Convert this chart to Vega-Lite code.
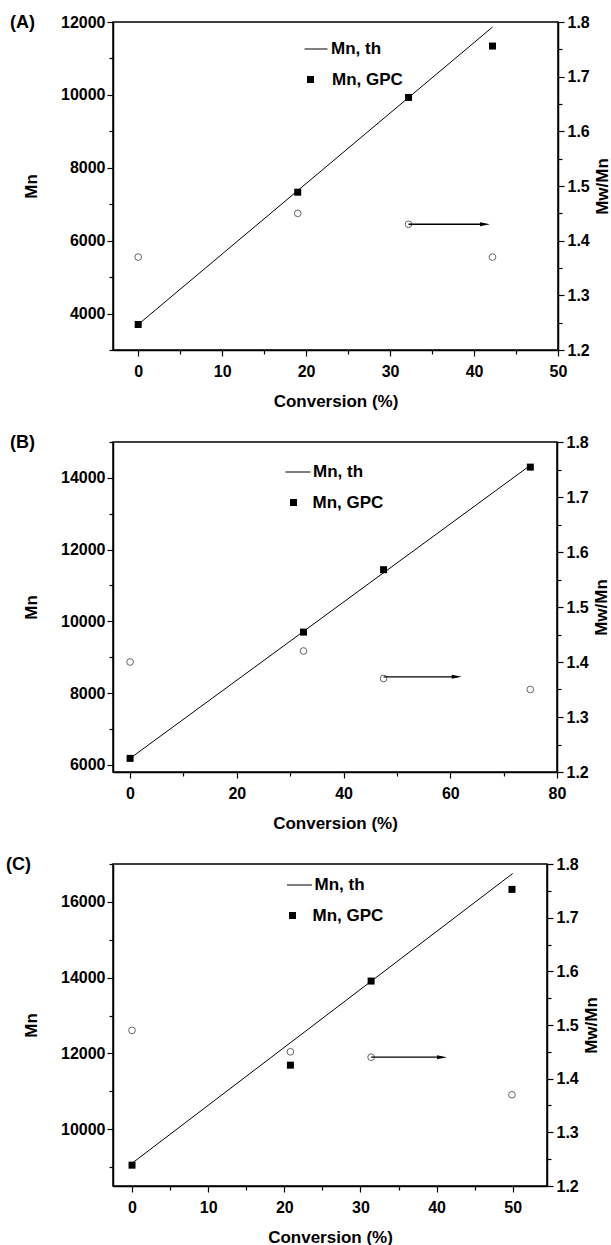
{
  "$schema": "https://vega.github.io/schema/vega-lite/v6.json",
  "background": "white",
  "padding": {"left": 5, "top": 13, "right": 0, "bottom": 0},
  "spacing": 23,
  "datasets": {
    "gpc": [
      {"panel": "A", "conv": 0, "mn": 3700, "series": "Mn, GPC"},
      {"panel": "A", "conv": 19, "mn": 7330, "series": "Mn, GPC"},
      {"panel": "A", "conv": 32.2, "mn": 9930, "series": "Mn, GPC"},
      {"panel": "A", "conv": 42.2, "mn": 11340, "series": "Mn, GPC"},
      {"panel": "B", "conv": 0, "mn": 6180, "series": "Mn, GPC"},
      {"panel": "B", "conv": 32.5, "mn": 9700, "series": "Mn, GPC"},
      {"panel": "B", "conv": 47.5, "mn": 11440, "series": "Mn, GPC"},
      {"panel": "B", "conv": 75, "mn": 14300, "series": "Mn, GPC"},
      {"panel": "C", "conv": 0, "mn": 9050, "series": "Mn, GPC"},
      {"panel": "C", "conv": 20.8, "mn": 11690, "series": "Mn, GPC"},
      {"panel": "C", "conv": 31.4, "mn": 13910, "series": "Mn, GPC"},
      {"panel": "C", "conv": 49.9, "mn": 16330, "series": "Mn, GPC"}
    ],
    "theory": [
      {"panel": "A", "conv": 0, "mn": 3700, "series": "Mn, th"},
      {"panel": "A", "conv": 42.2, "mn": 11860, "series": "Mn, th"},
      {"panel": "B", "conv": 0, "mn": 6180, "series": "Mn, th"},
      {"panel": "B", "conv": 75, "mn": 14350, "series": "Mn, th"},
      {"panel": "C", "conv": 0, "mn": 9100, "series": "Mn, th"},
      {"panel": "C", "conv": 50, "mn": 16750, "series": "Mn, th"}
    ],
    "pdi": [
      {"panel": "A", "conv": 0, "pdi": 1.37},
      {"panel": "A", "conv": 19, "pdi": 1.45},
      {"panel": "A", "conv": 32.2, "pdi": 1.43},
      {"panel": "A", "conv": 42.2, "pdi": 1.37},
      {"panel": "B", "conv": 0, "pdi": 1.40},
      {"panel": "B", "conv": 32.5, "pdi": 1.42},
      {"panel": "B", "conv": 47.5, "pdi": 1.37},
      {"panel": "B", "conv": 75, "pdi": 1.35},
      {"panel": "C", "conv": 0, "pdi": 1.49},
      {"panel": "C", "conv": 20.8, "pdi": 1.45},
      {"panel": "C", "conv": 31.4, "pdi": 1.44},
      {"panel": "C", "conv": 49.9, "pdi": 1.37}
    ],
    "arrows": [
      {"panel": "A", "conv": 32.2, "x2": 41.3, "pdi": 1.43},
      {"panel": "B", "conv": 47.5, "x2": 61.2, "pdi": 1.373},
      {"panel": "C", "conv": 31.4, "x2": 40.7, "pdi": 1.44}
    ]
  },
  "vconcat": [
    {
      "width": 445, "height": 328,
      "title": {"text": "(A)", "anchor": "start", "frame": "group", "dx": -103, "dy": 18, "offset": 0},
      "layer": [
        {
          "encoding": {
            "x": {"field": "conv", "type": "quantitative", "scale": {"domain": [-3, 50], "nice": false, "zero": false},
              "axis": {"orient": "bottom", "values": [0, 5, 10, 15, 20, 25, 30, 35, 40, 45, 50], "labelExpr": "datum.value % 10 === 0 ? datum.label : ''", "tickSize": {"condition": {"test": "datum.value % 10 === 0", "value": 6}, "value": 4}, "title": "Conversion (%)"}},
            "y": {"field": "mn", "type": "quantitative", "scale": {"domain": [3000, 12000], "nice": false, "zero": false},
              "axis": {"orient": "left", "format": "d", "values": [3000, 4000, 5000, 6000, 7000, 8000, 9000, 10000, 11000, 12000], "labelExpr": "datum.value % 2000 === 0 ? datum.label : ''", "tickSize": {"condition": {"test": "datum.value % 2000 === 0", "value": 6}, "value": 4}, "title": "Mn"}}
          },
          "layer": [
            {"data": {"name": "theory"}, "transform": [{"filter": "datum.panel === 'A'"}], "mark": {"type": "line", "strokeWidth": 1},
              "encoding": {"color": {"field": "series", "type": "nominal", "scale": {"domain": ["Mn, th"], "range": ["black"]},
                "legend": {"orient": "none", "legendX": 191, "legendY": 15, "title": null, "symbolType": "stroke", "symbolSize": 529, "symbolStrokeWidth": 1, "labelOffset": 3, "padding": 0}}}},
            {"data": {"name": "gpc"}, "transform": [{"filter": "datum.panel === 'A'"}], "mark": {"type": "point", "filled": true, "color": "black", "size": 49, "opacity": 1},
              "encoding": {"shape": {"field": "series", "type": "nominal", "scale": {"domain": ["Mn, GPC"], "range": ["square"]},
                "legend": {"orient": "none", "legendX": 189, "legendY": 49, "title": null, "symbolSize": 49, "symbolFillColor": "black", "symbolOpacity": 1, "labelOffset": 13, "padding": 0}}}}
          ]
        },
        {
          "encoding": {
            "x": {"field": "conv", "type": "quantitative", "scale": {"domain": [-3, 50], "nice": false, "zero": false},
              "axis": {"orient": "top", "values": [0, 5, 10, 15, 20, 25, 30, 35, 40, 45, 50], "labels": false, "tickSize": -4, "domain": false, "title": null}},
            "y": {"field": "pdi", "type": "quantitative", "scale": {"domain": [1.2, 1.8], "nice": false, "zero": false},
              "axis": {"orient": "right", "format": ".1f", "values": [1.2, 1.25, 1.3, 1.35, 1.4, 1.45, 1.5, 1.55, 1.6, 1.65, 1.7, 1.75, 1.8], "labelExpr": "round(datum.value * 100) % 10 === 0 ? datum.label : ''", "tickSize": {"condition": {"test": "round(datum.value * 100) % 10 === 0", "value": 6}, "value": 4}, "title": "Mw/Mn", "titleAngle": 270}}
          },
          "layer": [
            {"data": {"name": "pdi"}, "transform": [{"filter": "datum.panel === 'A'"}], "mark": {"type": "point", "filled": false, "color": "#555555", "size": 45, "strokeWidth": 0.9, "opacity": 1}},
            {"data": {"name": "arrows"}, "transform": [{"filter": "datum.panel === 'A'"}], "mark": {"type": "rule", "color": "black", "strokeWidth": 1.3}, "encoding": {"x2": {"field": "x2"}}},
            {"data": {"name": "arrows"}, "transform": [{"filter": "datum.panel === 'A'"}], "mark": {"type": "point", "shape": "M-1,-0.4L1,0L-1,0.4Z", "filled": true, "color": "black", "size": 100, "opacity": 1}, "encoding": {"x": {"field": "x2", "type": "quantitative", "axis": null}}}
          ]
        }
      ],
      "resolve": {"scale": {"y": "independent"}, "axis": {"x": "independent"}}
    },
    {
      "width": 444, "height": 330,
      "title": {"text": "(B)", "anchor": "start", "frame": "group", "dx": -103, "dy": 18, "offset": 0},
      "layer": [
        {
          "encoding": {
            "x": {"field": "conv", "type": "quantitative", "scale": {"domain": [-3.2, 80], "nice": false, "zero": false},
              "axis": {"orient": "bottom", "values": [0, 10, 20, 30, 40, 50, 60, 70, 80], "labelExpr": "datum.value % 20 === 0 ? datum.label : ''", "tickSize": {"condition": {"test": "datum.value % 20 === 0", "value": 6}, "value": 4}, "title": "Conversion (%)"}},
            "y": {"field": "mn", "type": "quantitative", "scale": {"domain": [5800, 15000], "nice": false, "zero": false},
              "axis": {"orient": "left", "format": "d", "values": [6000, 7000, 8000, 9000, 10000, 11000, 12000, 13000, 14000, 15000], "labelExpr": "datum.value % 2000 === 0 ? datum.label : ''", "tickSize": {"condition": {"test": "datum.value % 2000 === 0", "value": 6}, "value": 4}, "title": "Mn"}}
          },
          "layer": [
            {"data": {"name": "theory"}, "transform": [{"filter": "datum.panel === 'B'"}], "mark": {"type": "line", "strokeWidth": 1},
              "encoding": {"color": {"field": "series", "type": "nominal", "scale": {"domain": ["Mn, th"], "range": ["black"]},
                "legend": {"orient": "none", "legendX": 172, "legendY": 17, "title": null, "symbolType": "stroke", "symbolSize": 625, "symbolStrokeWidth": 1, "labelOffset": 2, "padding": 0}}}},
            {"data": {"name": "gpc"}, "transform": [{"filter": "datum.panel === 'B'"}], "mark": {"type": "point", "filled": true, "color": "black", "size": 49, "opacity": 1},
              "encoding": {"shape": {"field": "series", "type": "nominal", "scale": {"domain": ["Mn, GPC"], "range": ["square"]},
                "legend": {"orient": "none", "legendX": 172, "legendY": 52, "title": null, "symbolSize": 49, "symbolFillColor": "black", "symbolOpacity": 1, "labelOffset": 10.5, "padding": 0}}}}
          ]
        },
        {
          "encoding": {
            "x": {"field": "conv", "type": "quantitative", "scale": {"domain": [-3.2, 80], "nice": false, "zero": false},
              "axis": {"orient": "top", "values": [0, 10, 20, 30, 40, 50, 60, 70, 80], "labels": false, "tickSize": -4, "domain": false, "title": null}},
            "y": {"field": "pdi", "type": "quantitative", "scale": {"domain": [1.2, 1.8], "nice": false, "zero": false},
              "axis": {"orient": "right", "format": ".1f", "values": [1.2, 1.25, 1.3, 1.35, 1.4, 1.45, 1.5, 1.55, 1.6, 1.65, 1.7, 1.75, 1.8], "labelExpr": "round(datum.value * 100) % 10 === 0 ? datum.label : ''", "tickSize": {"condition": {"test": "round(datum.value * 100) % 10 === 0", "value": 6}, "value": 4}, "title": "Mw/Mn", "titleAngle": 270}}
          },
          "layer": [
            {"data": {"name": "pdi"}, "transform": [{"filter": "datum.panel === 'B'"}], "mark": {"type": "point", "filled": false, "color": "#555555", "size": 45, "strokeWidth": 0.9, "opacity": 1}},
            {"data": {"name": "arrows"}, "transform": [{"filter": "datum.panel === 'B'"}], "mark": {"type": "rule", "color": "black", "strokeWidth": 1.3}, "encoding": {"x2": {"field": "x2"}}},
            {"data": {"name": "arrows"}, "transform": [{"filter": "datum.panel === 'B'"}], "mark": {"type": "point", "shape": "M-1,-0.4L1,0L-1,0.4Z", "filled": true, "color": "black", "size": 100, "opacity": 1}, "encoding": {"x": {"field": "x2", "type": "quantitative", "axis": null}}}
          ]
        }
      ],
      "resolve": {"scale": {"y": "independent"}, "axis": {"x": "independent"}}
    },
    {
      "width": 434, "height": 322,
      "title": {"text": "(C)", "anchor": "start", "frame": "group", "dx": -107, "dy": 18, "offset": 0},
      "layer": [
        {
          "encoding": {
            "x": {"field": "conv", "type": "quantitative", "scale": {"domain": [-2.5, 54.5], "nice": false, "zero": false},
              "axis": {"orient": "bottom", "values": [0, 5, 10, 15, 20, 25, 30, 35, 40, 45, 50], "labelExpr": "datum.value % 10 === 0 ? datum.label : ''", "tickSize": {"condition": {"test": "datum.value % 10 === 0", "value": 6}, "value": 4}, "title": "Conversion (%)"}},
            "y": {"field": "mn", "type": "quantitative", "scale": {"domain": [8500, 17000], "nice": false, "zero": false},
              "axis": {"orient": "left", "format": "d", "values": [9000, 10000, 11000, 12000, 13000, 14000, 15000, 16000, 17000], "labelExpr": "datum.value % 2000 === 0 ? datum.label : ''", "tickSize": {"condition": {"test": "datum.value % 2000 === 0", "value": 6}, "value": 4}, "title": "Mn"}}
          },
          "layer": [
            {"data": {"name": "theory"}, "transform": [{"filter": "datum.panel === 'C'"}], "mark": {"type": "line", "strokeWidth": 1},
              "encoding": {"color": {"field": "series", "type": "nominal", "scale": {"domain": ["Mn, th"], "range": ["black"]},
                "legend": {"orient": "none", "legendX": 173.5, "legendY": 8, "title": null, "symbolType": "stroke", "symbolSize": 625, "symbolStrokeWidth": 1, "labelOffset": 2, "padding": 0}}}},
            {"data": {"name": "gpc"}, "transform": [{"filter": "datum.panel === 'C'"}], "mark": {"type": "point", "filled": true, "color": "black", "size": 49, "opacity": 1},
              "encoding": {"shape": {"field": "series", "type": "nominal", "scale": {"domain": ["Mn, GPC"], "range": ["square"]},
                "legend": {"orient": "none", "legendX": 171, "legendY": 43, "title": null, "symbolSize": 49, "symbolFillColor": "black", "symbolOpacity": 1, "labelOffset": 11.5, "padding": 0}}}}
          ]
        },
        {
          "encoding": {
            "x": {"field": "conv", "type": "quantitative", "scale": {"domain": [-2.5, 54.5], "nice": false, "zero": false},
              "axis": {"orient": "top", "values": [0, 5, 10, 15, 20, 25, 30, 35, 40, 45, 50], "labels": false, "tickSize": -4, "domain": false, "title": null}},
            "y": {"field": "pdi", "type": "quantitative", "scale": {"domain": [1.2, 1.8], "nice": false, "zero": false},
              "axis": {"orient": "right", "format": ".1f", "values": [1.2, 1.25, 1.3, 1.35, 1.4, 1.45, 1.5, 1.55, 1.6, 1.65, 1.7, 1.75, 1.8], "labelExpr": "round(datum.value * 100) % 10 === 0 ? datum.label : ''", "tickSize": {"condition": {"test": "round(datum.value * 100) % 10 === 0", "value": 6}, "value": 4}, "title": "Mw/Mn", "titleAngle": 270}}
          },
          "layer": [
            {"data": {"name": "pdi"}, "transform": [{"filter": "datum.panel === 'C'"}], "mark": {"type": "point", "filled": false, "color": "#555555", "size": 45, "strokeWidth": 0.9, "opacity": 1}},
            {"data": {"name": "arrows"}, "transform": [{"filter": "datum.panel === 'C'"}], "mark": {"type": "rule", "color": "black", "strokeWidth": 1.3}, "encoding": {"x2": {"field": "x2"}}},
            {"data": {"name": "arrows"}, "transform": [{"filter": "datum.panel === 'C'"}], "mark": {"type": "point", "shape": "M-1,-0.4L1,0L-1,0.4Z", "filled": true, "color": "black", "size": 100, "opacity": 1}, "encoding": {"x": {"field": "x2", "type": "quantitative", "axis": null}}}
          ]
        }
      ],
      "resolve": {"scale": {"y": "independent"}, "axis": {"x": "independent"}}
    }
  ],
  "resolve": {"scale": {"x": "independent", "y": "independent", "shape": "independent", "color": "independent"}, "legend": {"shape": "independent", "color": "independent"}},
  "config": {
    "font": "Liberation Sans",
    "view": {"stroke": "black", "strokeWidth": 1.5},
    "title": {"font": "Liberation Sans", "fontSize": 18, "fontWeight": "bold", "color": "black"},
    "legend": {"labelFont": "Liberation Sans", "labelFontSize": 17, "labelFontWeight": "bold", "labelColor": "black", "symbolStrokeColor": "black"},
    "axis": {
      "labelFont": "Liberation Sans", "labelFontSize": 16, "labelFontWeight": "bold", "labelColor": "black",
      "titleFont": "Liberation Sans", "titleFontSize": 17, "titleFontWeight": "bold", "titleColor": "black",
      "domainColor": "black", "domainWidth": 1.5, "tickColor": "black", "tickWidth": 1.2,
      "grid": false, "labelOverlap": false, "labelFlush": false
    },
    "axisX": {"labelPadding": 7, "titlePadding": 14},
    "axisLeft": {"labelPadding": 2, "titlePadding": 20},
    "axisRight": {"labelPadding": 3, "titlePadding": 22}
  }
}
